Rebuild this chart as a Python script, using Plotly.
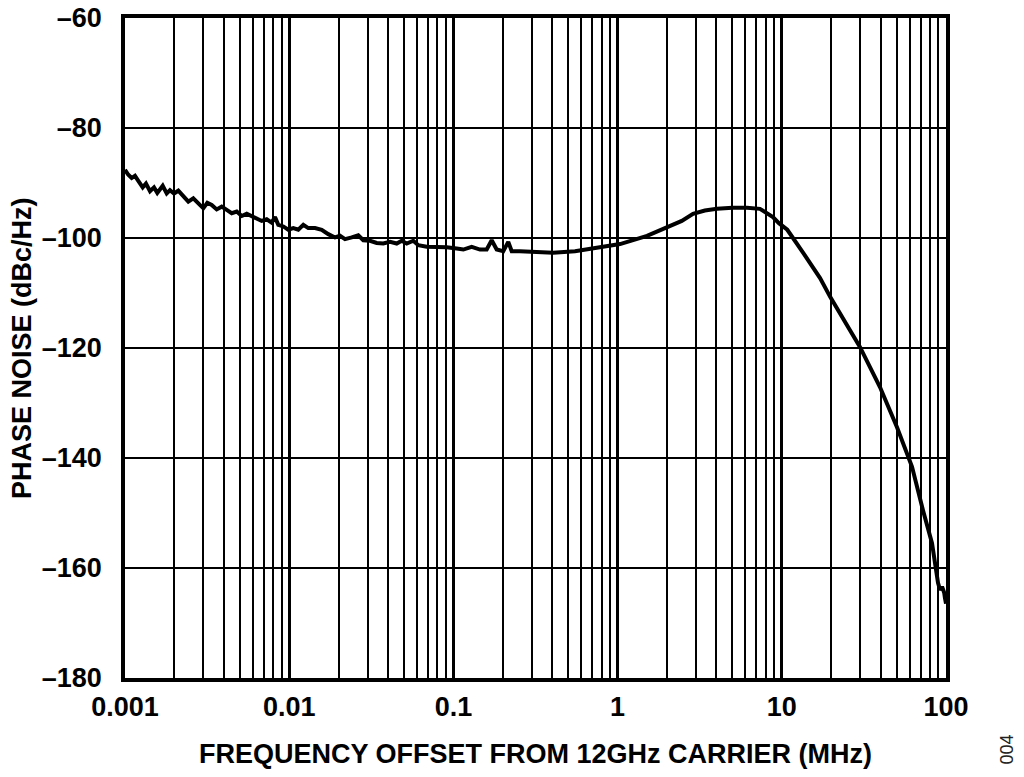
import plotly.graph_objects as go

# phase noise trace (MHz, dBc/Hz)
freq_mhz = [
    0.001, 0.001047, 0.001098, 0.00115, 0.001205, 0.001282, 0.001342, 0.00142,
    0.001502, 0.001573, 0.001697, 0.001795, 0.001879, 0.001988, 0.002112, 0.002265,
    0.00243, 0.002606, 0.002796, 0.002999, 0.003171, 0.003373, 0.003618, 0.003881,
    0.004164, 0.004466, 0.00479, 0.005138, 0.005512, 0.005911, 0.006341, 0.006801,
    0.007295, 0.007825, 0.008195, 0.008584, 0.009208, 0.009874, 0.01059, 0.01136,
    0.01219, 0.01307, 0.01436, 0.01578, 0.0173, 0.01901, 0.02039, 0.02187,
    0.02403, 0.02635, 0.02827, 0.03105, 0.03411, 0.03742, 0.04111, 0.04516,
    0.04843, 0.05195, 0.05698, 0.06113, 0.06877, 0.07913, 0.09106, 0.1047,
    0.1149, 0.1293, 0.1452, 0.1595, 0.1711, 0.1835, 0.2013, 0.2159,
    0.2265, 0.2544, 0.2928, 0.3369, 0.3876, 0.405, 0.55, 0.75,
    1.035, 1.51, 2.0, 2.46, 2.88, 3.4, 4.03, 5.0,
    6.14, 7.36, 8.83, 9.6, 10.8, 11.9, 13.5, 17.1,
    19.7, 29.9, 39.6, 50.3, 62.1, 72.4, 82.2, 89.4,
    92.0, 94.6, 97.5, 98.6, 100.0,
]
noise_dbc = [
    -87.6, -88.5, -89.1, -88.7, -89.6, -90.8, -90.1, -91.5,
    -90.8, -91.8, -90.5, -91.9, -91.3, -91.9, -91.4, -92.5,
    -93.4, -92.8, -93.7, -94.6, -93.6, -94.0, -94.8, -94.3,
    -94.9, -95.5, -95.2, -96.0, -95.6, -96.1, -96.4, -96.9,
    -96.6, -97.2, -96.2, -97.6, -97.9, -98.5, -98.2, -98.5,
    -97.6, -98.2, -98.2, -98.5, -99.3, -99.9, -99.6, -100.2,
    -99.9, -99.5, -100.4, -100.5, -100.9, -101.0, -100.7, -101.0,
    -100.5, -101.0, -100.5, -101.3, -101.6, -101.6, -101.7, -101.9,
    -102.1, -101.6, -102.1, -102.1, -100.4, -102.1, -102.4, -100.7,
    -102.4, -102.4, -102.5, -102.7, -102.7, -102.7, -102.4, -101.8,
    -101.1, -99.6, -98.0, -96.9, -95.6, -95.0, -94.7, -94.5,
    -94.5, -94.7, -96.2, -97.3, -98.5, -100.2, -102.7, -107.3,
    -110.7, -119.8, -127.1, -134.4, -141.6, -149.5, -155.5, -162.7,
    -164.0, -163.4, -164.5, -165.5, -166.5,
]

x_ticks = [0.001, 0.01, 0.1, 1, 10, 100]
x_labels = ["0.001", "0.01", "0.1", "1", "10", "100"]
y_ticks = [-180, -160, -140, -120, -100, -80, -60]
y_labels = ["\u2013180", "\u2013160", "\u2013140", "\u2013120", "\u2013100", "\u201380", "\u201360"]

minor_x = [m * d for d in [0.001, 0.01, 0.1, 1, 10] for m in range(2, 10)]

bold = dict(family="Liberation Sans, Arial, sans-serif", size=27, color="black", weight="bold")

fig = go.Figure()
fig.add_trace(go.Scatter(
    x=freq_mhz, y=noise_dbc, mode="lines",
    line=dict(color="black", width=4),
    showlegend=False, hoverinfo="skip",
))

fig.update_xaxes(
    type="log", range=[-3, 2], automargin=False,
    tickvals=x_ticks, ticktext=x_labels, ticks="",
    tickfont=bold, ticklabelstandoff=2, ticklabeloverflow="allow",
    showgrid=True, gridcolor="black", gridwidth=2.8,
    minor=dict(tickvals=minor_x, showgrid=True, gridcolor="black", gridwidth=1.8, ticks=""),
    showline=True, linecolor="black", linewidth=3.5, mirror=True,
    zeroline=False,
)
fig.update_yaxes(
    range=[-180, -60], automargin=False,
    tickvals=y_ticks, ticktext=y_labels, ticks="",
    tickfont=bold, ticklabelstandoff=14, ticklabeloverflow="allow",
    showgrid=True, gridcolor="black", gridwidth=2,
    showline=True, linecolor="black", linewidth=3.5, mirror=True,
    zeroline=False,
)

# the page body keeps its 8px margin, so the figure is offset by 8px in the window
fig.add_annotation(
    text="FREQUENCY OFFSET FROM 12GHz CARRIER (MHz)",
    xref="paper", yref="paper", x=0.5, y=-0.1152,
    xanchor="center", yanchor="middle", showarrow=False, font=bold,
)
fig.add_annotation(
    text="PHASE NOISE (dBc/Hz)",
    xref="paper", yref="paper", x=-0.1255, y=0.5, textangle=-90,
    xanchor="center", yanchor="middle", showarrow=False, font=bold,
)
fig.add_annotation(
    text="004",
    xref="paper", yref="paper", x=1.0749, y=-0.1076, textangle=-90,
    xanchor="center", yanchor="middle", showarrow=False,
    font=dict(family="Liberation Sans, Arial, sans-serif", size=18, color="#222222"),
)

fig.update_layout(
    width=1012, height=761,
    margin=dict(l=117, r=74, t=10, b=91),
    plot_bgcolor="white", paper_bgcolor="white",
)

fig.write_html("out.html")
